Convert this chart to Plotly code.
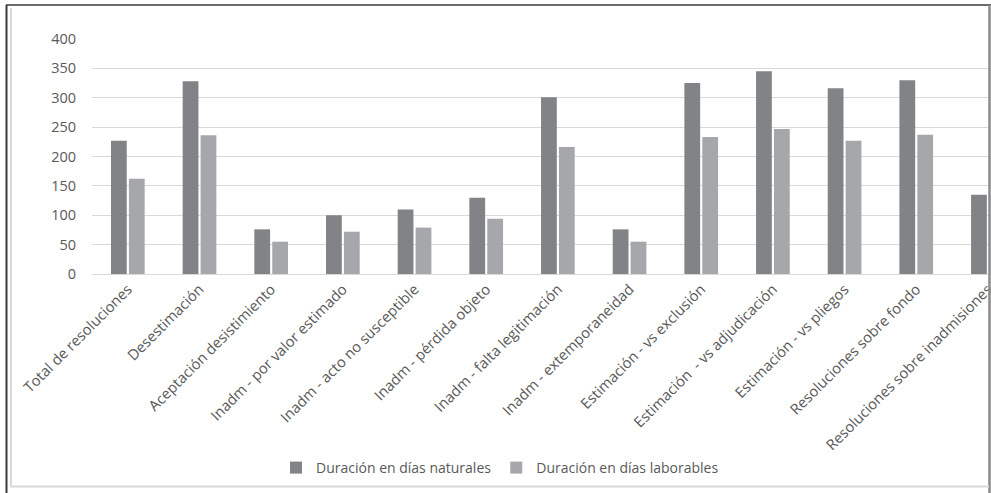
import plotly.graph_objects as go

categories = [
    "Total de resoluciones", "Desestimación", "Aceptación desistimiento",
    "Inadm - por valor estimado", "Inadm - acto no susceptible",
    "Inadm - pérdida objeto", "Inadm - falta legitimación",
    "Inadm - extemporaneidad", "Estimación - vs exclusión",
    "Estimación  - vs adjudicación", "Estimación - vs pliegos",
    "Resoluciones sobre fondo", "Resoluciones sobre inadmisiones",
]
naturales = [227, 328, 76, 100, 110, 130, 301, 76, 325, 345, 316, 330, 135]
laborables = [162, 236, 55, 72, 79, 94, 216, 55, 233, 247, 227, 237, 97]
y_ticks = [0, 50, 100, 150, 200, 250, 300, 350, 400]

W, H = 991, 493
ML, MR, MT, MB = 92, 2, 39, 219
PW, PH = W - ML - MR, H - MT - MB


def px(x):
    return (x - ML) / PW


def py(y):
    return (H - MB - y) / PH


fig = go.Figure()
fig.add_trace(go.Bar(x=list(range(len(categories))), y=naturales,
                     name="Duración en días naturales",
                     marker=dict(color="#828386", line=dict(width=0))))
fig.add_trace(go.Bar(x=list(range(len(categories))), y=laborables,
                     name="Duración en días laborables",
                     marker=dict(color="#a6a7aa", line=dict(width=0))))

font = "Open Sans, Liberation Sans, sans-serif"
fig.update_layout(
    width=W, height=H,
    margin=dict(l=ML, r=MR, t=MT, b=MB),
    paper_bgcolor="white", plot_bgcolor="white",
    barmode="group", bargap=0.5, bargroupgap=0.12,
    font=dict(family=font, color="#595959", size=13),
    showlegend=True,
    legend=dict(orientation="h", x=px(500), xanchor="center",
                y=py(468), yanchor="middle",
                font=dict(size=14, color="#595959"),
                itemwidth=30, tracegroupgap=0),
    xaxis=dict(range=[-0.5, 12.015], tickmode="array",
               tickvals=list(range(len(categories))), ticktext=categories,
               tickangle=-45, showgrid=False, showline=True,
               linecolor="#d9d9d9", linewidth=1, ticks="",
               ticklabeloverflow="allow", automargin=False,
               tickfont=dict(size=14.7, color="#595959")),
    yaxis=dict(range=[0, 400], tickmode="array", tickvals=y_ticks,
               showgrid=True, gridcolor="#d9d9d9", gridwidth=1,
               zeroline=False, showline=False, ticks="",
               ticklabelstandoff=15, automargin=False,
               tickfont=dict(size=14.5, color="#595959")),
)

shapes = [
    # outer dark frame
    dict(type="line", xref="paper", yref="paper", x0=px(6.5), x1=px(6.5),
         y0=py(5), y1=py(493), line=dict(color="#3a3a3a", width=2)),
    dict(type="line", xref="paper", yref="paper", x0=px(6), x1=px(991),
         y0=py(5), y1=py(5), line=dict(color="#3a3a3a", width=1.5)),
    dict(type="line", xref="paper", yref="paper", x0=px(989.5), x1=px(989.5),
         y0=py(5), y1=py(493), line=dict(color="#8a8a8a", width=2.5)),
    # inner light chart border
    dict(type="line", xref="paper", yref="paper", x0=px(11), x1=px(11),
         y0=py(8), y1=py(487), line=dict(color="#d9d9d9", width=2)),
    dict(type="line", xref="paper", yref="paper", x0=px(10), x1=px(989),
         y0=py(486.5), y1=py(486.5), line=dict(color="#d9d9d9", width=2)),
]
fig.update_layout(shapes=shapes)

fig.write_html("out.html")
